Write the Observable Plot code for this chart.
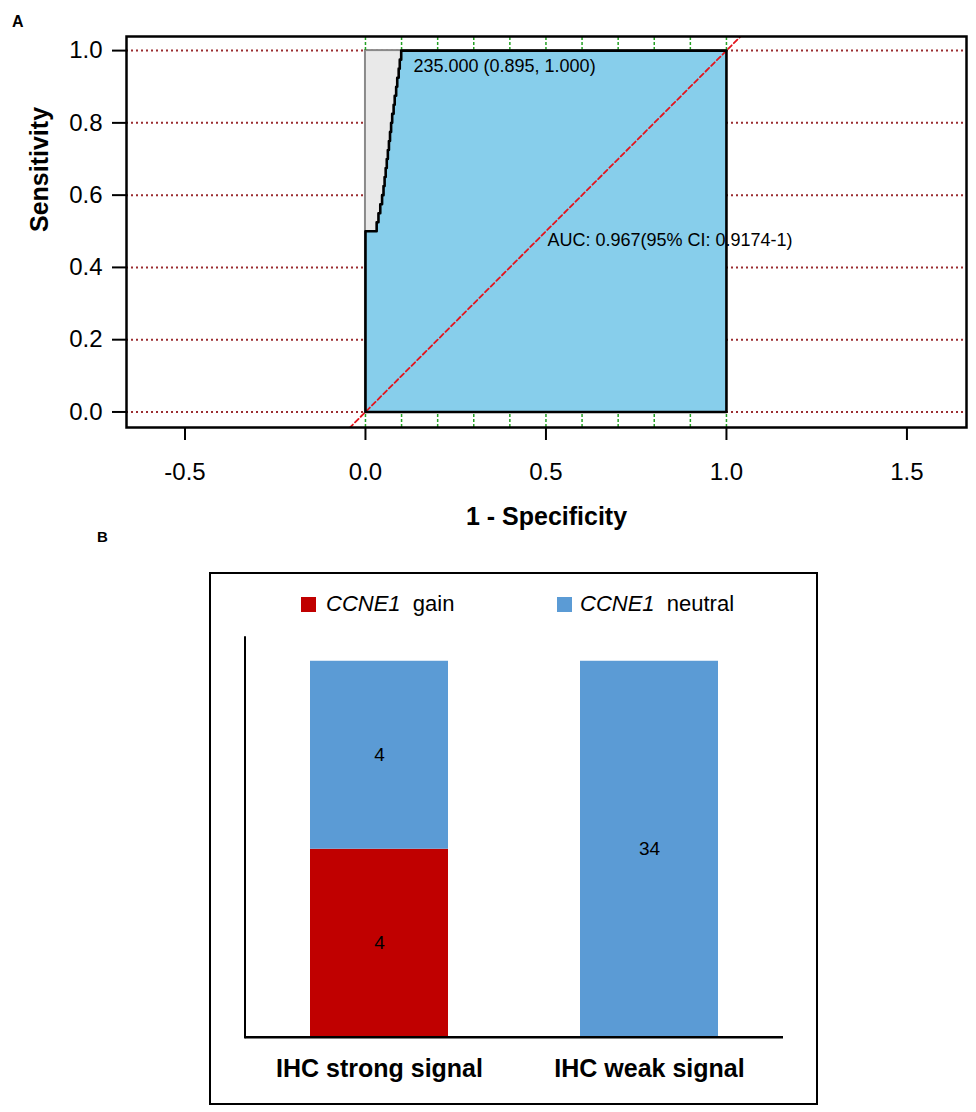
<!DOCTYPE html>
<html><head><meta charset="utf-8">
<script src="https://cdn.jsdelivr.net/npm/d3@7"></script>
<script src="https://cdn.jsdelivr.net/npm/@observablehq/plot@0.6"></script>
<style>
html,body{margin:0;padding:0;background:#fff;overflow:hidden;font-family:"Liberation Sans",Arial,sans-serif;}
#wrap{position:relative;width:976px;height:1112px;overflow:hidden;background:#fff}
.abs{position:absolute}
#plotA,#plotB{position:absolute;left:0}
#plotA{top:0}
#plotB{top:530px}
.lg{position:absolute;font-size:22px;line-height:22px;color:#000;white-space:pre}
.sw{position:absolute;width:15px;height:15px}
</style></head><body><div id="wrap">
<div id="plotA"></div>
<div id="plotB"></div>
</div>
<script>
// ---------- Panel A data (ROC) ----------
const yTicksA = [0, 0.2, 0.4, 0.6, 0.8, 1.0];
const xTicksA = [-0.5, 0, 0.5, 1.0, 1.5];
const greenTicks = [0, 0.1, 0.2, 0.3, 0.4, 0.5, 0.6, 0.7, 0.8, 0.9, 1.0];
const rocFpr  = [0, 0,   0.031, 0.036, 0.041, 0.046, 0.050, 0.053, 0.056, 0.059, 0.062, 0.065, 0.068, 0.071, 0.074, 0.078, 0.081, 0.085, 0.088, 0.092, 0.095, 0.099, 0.102, 1.0];
const rocSens = [0, 0.5, 0.5,   0.525, 0.55,  0.575, 0.60,  0.625, 0.65,  0.675, 0.70,  0.725, 0.75,  0.775, 0.80,  0.825, 0.85,  0.875, 0.90,  0.925, 0.95,  0.975, 1.0,   1.0];
const cutoffLabel = "235.000 (0.895, 1.000)";
const cutoffPos = [0.133, 0.958];
const aucLabel = "AUC: 0.967(95% CI: 0.9174-1)";
const aucPos = [0.504, 0.474];
const xLabelA = "1 - Specificity";
const yLabelA = "Sensitivity";

// ---------- Panel B data (stacked bars) ----------
const signals = ["IHC strong signal", "IHC weak signal"];
const statuses = ["gain", "neutral"];
const gainCounts = [4, 0];
const neutralCounts = [4, 34];

// ---------- Panel A ----------
const xMinA = -0.662, xMaxA = 1.665, yMinA = -0.043, yMaxA = 1.039;
const rocData = rocFpr.map((x, i) => ({x, y: rocSens[i]}));
const outline = [...rocData, {x: 1, y: 0}, {x: 0, y: 0}];
const fmt1 = d => d.toFixed(1);

const plotA = Plot.plot({
  width: 976, height: 530,
  marginLeft: 126, marginRight: 10, marginTop: 36, marginBottom: 103,
  style: {fontFamily: "Liberation Sans, Arial, sans-serif", color: "#000", background: "transparent", overflow: "visible"},
  x: {domain: [xMinA, xMaxA]},
  y: {domain: [yMinA, yMaxA]},
  marks: [
    Plot.ruleY(yTicksA, {x1: xMinA, x2: xMaxA, stroke: "#9b2d30", strokeWidth: 2, strokeDasharray: "2,3"}),
    Plot.rect([0], {x1: 0, x2: 1, y1: 0, y2: 1, fill: "#e9e9e9", stroke: "#8a8a8a", strokeWidth: 2}),
    Plot.areaY(rocData, {x: "x", y: "y", curve: "step-before", fill: "#87ceeb"}),
    Plot.ruleX(greenTicks, {y1: yMinA, y2: 0, stroke: "#23a023", strokeWidth: 1.5, strokeDasharray: "3,2"}),
    Plot.ruleX(greenTicks, {y1: 1, y2: yMaxA, stroke: "#23a023", strokeWidth: 1.5, strokeDasharray: "3,2"}),
    Plot.line([{x: -1, y: -1}, {x: 2, y: 2}], {x: "x", y: "y", stroke: "#e3141c", strokeWidth: 1.8, strokeDasharray: "5,3", clip: true}),
    Plot.line(outline, {x: "x", y: "y", curve: "step-before", stroke: "#000", strokeWidth: 2.6}),
    Plot.text([cutoffLabel], {x: cutoffPos[0], y: cutoffPos[1], textAnchor: "start", fontSize: 18, fill: "#000"}),
    Plot.text([aucLabel], {x: aucPos[0], y: aucPos[1], textAnchor: "start", fontSize: 18, fill: "#000"}),
    Plot.frame({stroke: "#000", strokeWidth: 2.5}),
    Plot.axisY({ticks: yTicksA, tickSize: 14, tickPadding: 10, tickFormat: fmt1, fontSize: 24, strokeWidth: 2, label: null}),
    Plot.axisX({ticks: xTicksA, tickSize: 13, tickPadding: 22, tickFormat: fmt1, fontSize: 24, strokeWidth: 2, label: null}),
    Plot.text([xLabelA], {frameAnchor: "bottom", dy: 89, lineAnchor: "middle", fontSize: 25, fontWeight: "bold", fill: "#000"}),
    Plot.text([yLabelA], {frameAnchor: "left", dx: -87, rotate: -90, lineAnchor: "middle", fontSize: 25, fontWeight: "bold", fill: "#000"})
  ]
});
document.getElementById("plotA").appendChild(plotA);

// ---------- Panel B ----------
const tableB = [];
signals.forEach((s, i) => {
  tableB.push({signal: s, status: "gain", count: gainCounts[i]});
  tableB.push({signal: s, status: "neutral", count: neutralCounts[i]});
});
const plotB = Plot.plot({
  width: 976, height: 582,
  marginLeft: 244.5, marginRight: 193, marginTop: 106.7, marginBottom: 75.3,
  style: {fontFamily: "Liberation Sans, Arial, sans-serif", color: "#000", background: "transparent", overflow: "visible"},
  x: {domain: signals, paddingInner: 0.49, paddingOuter: 0.24},
  y: {domain: [0, 1.064], axis: null},
  color: {domain: statuses, range: ["#c00000", "#5b9bd5"]},
  marks: [
    Plot.barY(tableB, {x: "signal", y: "count", z: "status", fill: "status", offset: "normalize", order: statuses}),
    Plot.text(tableB.filter(d => d.count > 0), Plot.stackY({x: "signal", y: "count", z: "status", offset: "normalize", order: statuses, text: "count", fontSize: 19, fill: "#000"})),
    Plot.ruleY([0], {stroke: "#000", strokeWidth: 2.5}),
    Plot.frame({anchor: "left", stroke: "#000", strokeWidth: 2}),
    Plot.axisX({tickSize: 0, tickPadding: 22, fontSize: 25, fontWeight: "bold", label: null})
  ]
});
document.getElementById("plotB").appendChild(plotB);

// ---------- overlays: panel letters, box and legend ----------
const wrap = document.getElementById("wrap");
function add(html) { wrap.insertAdjacentHTML("beforeend", html); }
add('<div class="abs" style="left:12px;top:13px;font-weight:bold;font-size:16px">A</div>');
add('<div class="abs" style="left:97px;top:528px;font-weight:bold;font-size:15px">B</div>');
add('<div class="abs" style="left:209px;top:572px;width:609px;height:533px;box-sizing:border-box;border:2.5px solid #000"></div>');
add('<div class="sw" style="left:301px;top:597px;background:#c00000"></div>');
add('<div class="lg" style="left:326px;top:593px"><i>CCNE1</i>  gain</div>');
add('<div class="sw" style="left:557px;top:597px;background:#5b9bd5"></div>');
add('<div class="lg" style="left:580px;top:593px"><i>CCNE1</i>  neutral</div>');
</script>
</body></html>
